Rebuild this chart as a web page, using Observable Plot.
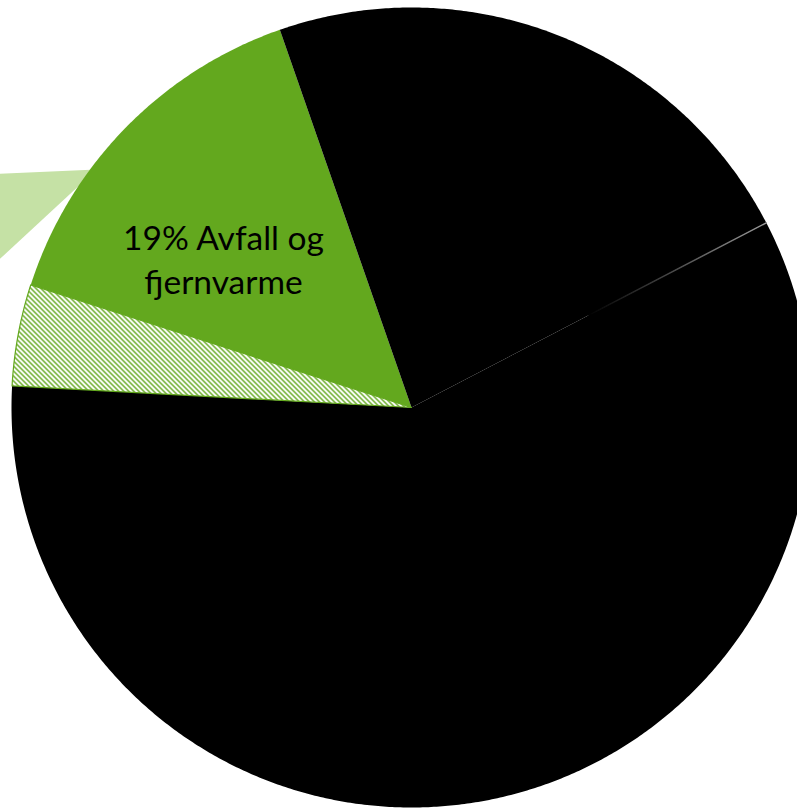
<!DOCTYPE html>
<html><head><meta charset="utf-8">
<script src="https://cdn.jsdelivr.net/npm/d3@7"></script>
<script src="https://cdn.jsdelivr.net/npm/@observablehq/plot@0.6"></script>
<style>html,body{margin:0;padding:0;background:#fff;overflow:hidden}</style>
</head><body><div id="chart"></div>
<script>
// ---- data ----
const sliceNames = ["Andre sektorer", "Avfall (skravert)", "Avfall og fjernvarme", "Andre sektorer 2"];
const sliceValues = [58.5, 4.1, 14.7, 22.7];           // percent
const sliceFills = ["#000000", "url(#hatch)", "#63a81e", "#000000"];
const labelLines = ["19% Avfall og", "fjernvarme"];
const outerName = ["Utskilt del"];
const outerValue = [11.2];                                // percent
const outerFill = ["#c5e1a5"];

// ---- layout ----
const W = 797, H = 808, R = 400, CX = 411, CY = 407;
const startAngle = 62.5;                 // degrees clockwise from north
const outerApex = [-315, 238];           // relative to main centre
const outerStart = 227.2, outerR = 260;
const labelPos = [-188, 149.5];

const rad = d => d * Math.PI / 180;
function wedge(id, fill, cx, cy, r, a0, a1) {
  const pts = [{id, fill, x: cx, y: cy}];
  const n = Math.max(2, Math.ceil((a1 - a0) / 0.4));
  for (let i = 0; i <= n; i++) {
    const a = rad(a0 + (a1 - a0) * i / n);
    pts.push({id, fill, x: cx + r * Math.sin(a), y: cy + r * Math.cos(a)});
  }
  pts.push({id, fill, x: cx, y: cy});
  return pts;
}

const total = d3.sum(sliceValues);
let acc = startAngle;
const slices = sliceNames.map((name, i) => {
  const a0 = acc, a1 = acc + sliceValues[i] / total * 360;
  acc = a1;
  return {name, fill: sliceFills[i], a0, a1};
});
const piePts = slices.flatMap(s => wedge(s.name, s.fill, 0, 0, R, s.a0, s.a1));
const hatchSlice = slices[1];
const hatchPts = wedge("h", "#63a81e", 0, 0, R, hatchSlice.a0, hatchSlice.a1);
const outerPts = wedge(outerName[0], outerFill[0], outerApex[0], outerApex[1], outerR,
                       outerStart, outerStart + outerValue[0] / 100 * 360);
const divA = rad(slices[0].a0);
const divider = [200, R].map(r => ({x: r * Math.sin(divA), y: r * Math.cos(divA)}));

const plot = Plot.plot({
  width: W, height: H,
  margin: 0,
  x: {domain: [-CX, W - CX], range: [0, W], axis: null},
  y: {domain: [CY, CY - H], range: [0, H], axis: null},
  color: {type: "identity"},
  style: {background: "#fff", overflow: "hidden"},
  marks: [
    Plot.line(outerPts, {x: "x", y: "y", z: "id", fill: "fill", stroke: null, curve: "linear", clip: true}),
    Plot.line(piePts, {x: "x", y: "y", z: "id", fill: "fill", stroke: null, curve: "linear", clip: true}),
    Plot.line(hatchPts, {x: "x", y: "y", z: "id", fill: "none", stroke: "#63a81e", strokeWidth: 1.2, curve: "linear", clip: true}),
    Plot.line(divider, {x: "x", y: "y", stroke: "url(#fade)", strokeWidth: 1.5, clip: true}),
    Plot.text([labelLines.join("\n")], {x: () => labelPos[0], y: () => labelPos[1], text: d => d,
      fontSize: 33.5, fontFamily: "Lato, 'Open Sans', sans-serif", lineHeight: 44 / 33.5,
      fill: "#000", textAnchor: "middle"})
  ]
});

const svg = d3.select(plot);
const defs = svg.insert("defs", ":first-child");
const pat = defs.append("pattern").attr("id", "hatch").attr("patternUnits", "userSpaceOnUse")
  .attr("width", 5).attr("height", 5);
pat.append("rect").attr("width", 5).attr("height", 5).attr("fill", "#63a81e");
pat.append("path").attr("d", "M-1,-1L6,6M-1,4L1,6M4,-1L6,1")
  .attr("stroke", "#fff").attr("stroke-width", 2.4).attr("shape-rendering", "crispEdges");
const g = defs.append("linearGradient").attr("id", "fade")
  .attr("x1", 0).attr("y1", 1).attr("x2", 1).attr("y2", 0);
g.append("stop").attr("offset", "0%").attr("stop-color", "#000");
g.append("stop").attr("offset", "100%").attr("stop-color", "#9a9a9a");

document.getElementById("chart").appendChild(plot);
</script>
</body></html>
